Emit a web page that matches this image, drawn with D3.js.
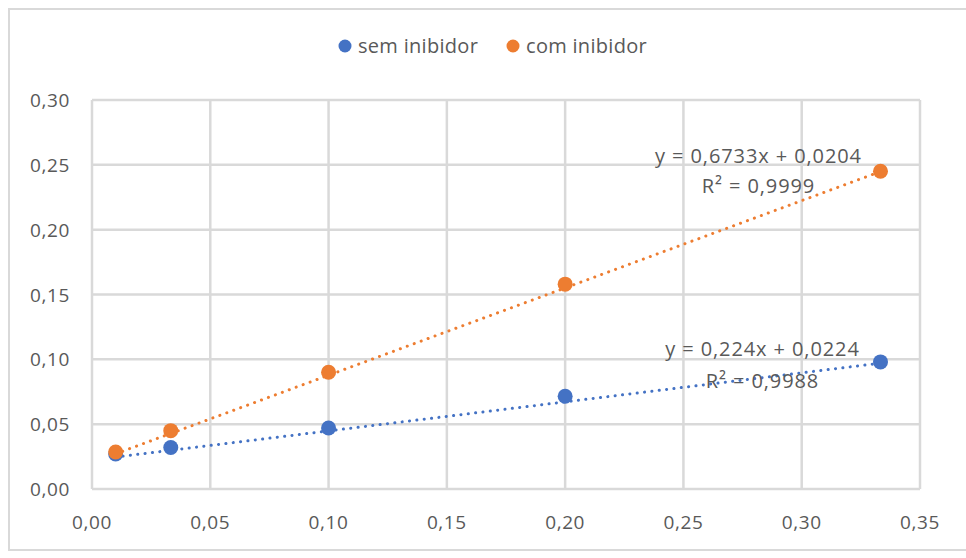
<!DOCTYPE html>
<html>
<head>
<meta charset="utf-8">
<script src="https://cdn.jsdelivr.net/npm/d3@7"></script>
<style>
  body { margin: 0; background: #fff; }
  svg text { font-family: "Open Sans", sans-serif; fill: #595959; }
</style>
</head>
<body>
<svg width="966" height="558"></svg>
<script>
// data
var xValues = [0.01, 0.0333, 0.10, 0.20, 0.3333];
var semInibidor = [0.027, 0.032, 0.047, 0.0715, 0.098];
var comInibidor = [0.0285, 0.045, 0.090, 0.158, 0.245];
var seriesNames = ["sem inibidor", "com inibidor"];
var colors = ["#4472C4", "#ED7D31"];
var trend = [
  { slope: 0.224, icept: 0.0224, eq: "y = 0,224x + 0,0224", r2: "R² = 0,9988" },
  { slope: 0.6733, icept: 0.0204, eq: "y = 0,6733x + 0,0204", r2: "R² = 0,9999" }
];
var xTicks = [0, 0.05, 0.10, 0.15, 0.20, 0.25, 0.30, 0.35];
var yTicks = [0, 0.05, 0.10, 0.15, 0.20, 0.25, 0.30];

function init() {
  var svg = d3.select("svg");
  var fmt = function (d) { return d3.format(".2f")(d).replace(".", ","); };

  var x = d3.scaleLinear().domain([0, 0.35]).range([92, 920]);
  var y = d3.scaleLinear().domain([0, 0.30]).range([489, 100]);

  // chart border
  svg.append("rect")
      .attr("x", 9).attr("y", 9)
      .attr("width", 1000).attr("height", 541)
      .attr("fill", "none")
      .attr("stroke", "#d9d9d9")
      .attr("stroke-width", 2);

  // grid
  svg.append("g").selectAll("line").data(xTicks).join("line")
      .attr("x1", d => x(d)).attr("x2", d => x(d))
      .attr("y1", y(0)).attr("y2", y(0.30))
      .attr("stroke", "#d9d9d9").attr("stroke-width", 2.5);
  svg.append("g").selectAll("line").data(yTicks).join("line")
      .attr("y1", d => y(d)).attr("y2", d => y(d))
      .attr("x1", x(0)).attr("x2", x(0.35))
      .attr("stroke", "#d9d9d9").attr("stroke-width", 2.5);

  // tick labels
  svg.append("g").selectAll("text").data(xTicks).join("text")
      .attr("x", d => x(d)).attr("y", 529)
      .attr("text-anchor", "middle")
      .style("font-size", "19px").style("letter-spacing", "0.6px")
      .text(fmt);
  svg.append("g").selectAll("text").data(yTicks).join("text")
      .attr("x", 70).attr("y", d => y(d) + 7)
      .attr("text-anchor", "end")
      .style("font-size", "19px").style("letter-spacing", "0.6px")
      .text(fmt);

  var series = [semInibidor, comInibidor];

  // trendlines (dotted)
  series.forEach(function (vals, i) {
    var t = trend[i];
    var x0 = d3.min(xValues), x1 = d3.max(xValues);
    svg.append("line")
        .attr("x1", x(x0)).attr("y1", y(t.slope * x0 + t.icept))
        .attr("x2", x(x1)).attr("y2", y(t.slope * x1 + t.icept))
        .attr("stroke", colors[i])
        .attr("stroke-width", 3)
        .attr("stroke-linecap", "round")
        .attr("stroke-dasharray", "0.1 7.3");
  });

  // points
  series.forEach(function (vals, i) {
    svg.append("g").selectAll("circle").data(vals).join("circle")
        .attr("cx", (d, j) => x(xValues[j]))
        .attr("cy", d => y(d))
        .attr("r", 7.5)
        .attr("fill", colors[i]);
  });

  // trendline labels
  var lblY = [[356, 388], [163, 193]];
  var lblDx = [-118, -122];
  trend.forEach(function (t, i) {
    var cx = x(d3.max(xValues)) + lblDx[i];
    svg.append("text").attr("x", cx).attr("y", lblY[i][0])
        .attr("text-anchor", "middle")
        .style("font-size", "20px").style("letter-spacing", "0.9px")
        .text(t.eq);
    svg.append("text").attr("x", cx).attr("y", lblY[i][1])
        .attr("text-anchor", "middle")
        .style("font-size", "20px").style("letter-spacing", "0.9px")
        .text(t.r2);
  });

  // legend
  var legendX = [345, 513];
  seriesNames.forEach(function (name, i) {
    var g = svg.append("g").attr("transform", "translate(" + legendX[i] + ",46)");
    g.append("circle").attr("r", 6.5).attr("fill", colors[i]);
    g.append("text").attr("x", 13).attr("y", 7)
        .style("font-size", "20px").style("letter-spacing", "0.3px")
        .text(name);
  });
}

window.onload = init;
</script>
</body>
</html>
